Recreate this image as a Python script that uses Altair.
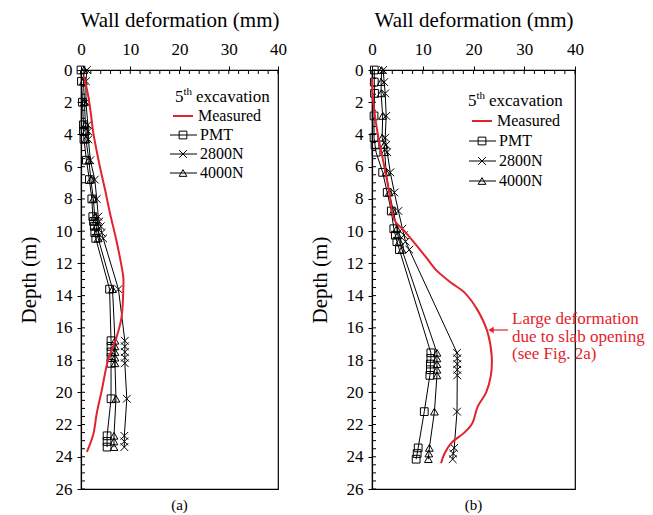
import altair as alt
import pandas as pd
import numpy as np

FONT = "Liberation Serif"
RED = "#e3232b"

series_names = ["PMT", "2800N", "4000N"]
x_ticks = [0, 10, 20, 30, 40]
y_ticks = list(range(0, 27, 2))

# ---------- panel (a) ----------
depth_a = [0, 0.7, 2.0, 3.4, 3.8, 4.3, 5.6, 6.8, 8.0, 9.1, 9.4, 9.7, 10.1, 10.45,
           13.6, 16.8, 17.15, 17.5, 17.85, 18.2, 20.4, 22.7, 23.05, 23.4]
pmt_a = [0.0, 0.1, 0.3, 0.5, 0.5, 0.6, 1.1, 1.7, 2.2, 2.4, 2.55, 2.7, 2.8, 3.0,
         5.8, 6.1, 6.1, 6.1, 6.1, 6.1, 6.1, 5.3, 5.3, 5.3]
n2800_a = [1.2, 1.0, 1.0, 1.4, 1.5, 1.5, 1.9, 2.8, 3.2, 3.5, 3.7, 4.0, 4.2, 4.5,
           7.6, 8.9, 8.9, 8.9, 8.9, 8.9, 9.3, 8.8, 8.8, 8.8]
n4000_a = [0.6, 0.5, 0.7, 0.9, 1.0, 1.0, 1.6, 2.0, 2.5, 2.8, 2.9, 3.1, 3.2, 3.5,
           6.4, 6.9, 6.9, 6.9, 6.9, 6.9, 7.1, 6.7, 6.7, 6.7]
meas_depth_a = [0.4, 1.5, 2.7, 3.9, 5.8, 7.45, 8.9, 10.6, 12.2, 12.9, 13.5, 15.3,
                16.6, 18.0, 19.9, 21.3, 22.6, 23.7]
meas_val_a = [0.6, 1.4, 2.0, 2.5, 3.7, 4.9, 5.9, 7.2, 8.25, 8.6, 8.6, 8.25,
              7.2, 5.5, 4.2, 3.2, 2.5, 1.2]

# ---------- panel (b) ----------
depth_b = [0, 0.75, 1.45, 2.85, 4.2, 4.65, 5.1, 6.35, 7.6, 8.75, 9.85, 10.25, 10.65,
           11.15, 17.55, 17.9, 18.25, 18.6, 18.95, 21.2, 23.45, 23.8, 24.15]
pmt_b = [0.45, 0.45, 0.5, 0.4, 0.4, 0.6, 0.8, 2.1, 3.0, 3.8, 4.3, 4.6, 4.9,
         5.4, 11.6, 11.6, 11.5, 11.5, 11.4, 10.3, 9.1, 8.9, 8.7]
n2800_b = [2.2, 2.4, 2.6, 2.8, 2.6, 2.8, 3.0, 3.6, 4.4, 5.2, 6.0, 6.3, 6.6,
           7.35, 16.75, 16.8, 16.8, 16.8, 16.8, 16.75, 16.2, 16.0, 15.9]
n4000_b = [1.9, 1.8, 1.8, 2.1, 2.0, 2.4, 2.5, 2.8, 3.4, 4.2, 4.9, 5.1, 5.4,
           5.9, 12.8, 12.8, 12.8, 12.8, 12.8, 12.3, 11.3, 11.2, 11.1]
meas_depth_b = [0.5, 1.8, 3.9, 5.95, 7.6, 9.3, 10.0, 10.9, 11.6, 12.4, 13.2, 13.8,
                14.9, 16.3, 17.8, 19.0, 20.0, 20.9, 21.9, 22.5, 23.15, 23.8, 24.4]
meas_val_b = [0.0, 0.2, 1.1, 2.4, 3.4, 4.4, 6.4, 8.8, 10.6, 12.6, 15.6, 18.2,
              20.8, 22.8, 23.6, 23.4, 22.5, 20.8, 19.8, 18.2, 15.6, 14.3, 13.6]

annotation_lines = ["Large deformation", "due to slab opening", "(see Fig. 2a)"]

H = 419
X_SHAPE = "M-1,-1L1,1M-1,1L1,-1"
shape_range = ["square", X_SHAPE, "triangle-up"]
MSIZE = 60


def model_df(depths, pmt, n2800, n4000):
    rows = []
    for name, vals in zip(series_names, [pmt, n2800, n4000]):
        for d, v in zip(depths, vals):
            rows.append({"series": name, "depth": d, "value": v})
    return pd.DataFrame(rows)


def xenc():
    return alt.X("value:Q", scale=alt.Scale(domain=[0, 40], nice=False, zero=False),
                 axis=alt.Axis(orient="top", values=x_ticks, title="Wall deformation (mm)",
                               tickSize=4, labelPadding=8, titlePadding=10,
                               labelFlush=False))


def yenc():
    return alt.Y("depth:Q", scale=alt.Scale(domain=[0, 26], reverse=True, nice=False, zero=False),
                 axis=alt.Axis(values=y_ticks, title="Depth (m)", tickSize=4,
                               labelPadding=5, titlePadding=16, labelFlush=False))


def one():
    return alt.Chart(alt.Data(values=[{}]))


def txt(s, x, y, size=16, color="black"):
    return one().mark_text(text=s, font=FONT, fontSize=size, color=color,
                           align="left", baseline="middle").encode(
        x=alt.value(x), y=alt.value(y))


def panel(depths, pmt, n2800, n4000, mdepth, mval, width, label, leg, annotate=False):
    mdf = model_df(depths, pmt, n2800, n4000)
    meas = pd.DataFrame({"depth": mdepth, "value": mval})
    ytk = pd.DataFrame({"depth": np.arange(0, 26.01, 0.5)})
    xtk = pd.DataFrame({"value": np.arange(0, 40.01, 2)})

    lines = alt.Chart(mdf).mark_line(color="black", strokeWidth=1).encode(
        x=xenc(), y=yenc(), detail="series:N", order="depth:Q")
    pts = alt.Chart(mdf).mark_point(filled=False, color="black", strokeWidth=1,
                                    size=MSIZE, opacity=1).encode(
        x=xenc(), y=yenc(),
        shape=alt.Shape("series:N", scale=alt.Scale(domain=series_names, range=shape_range),
                        legend=None))
    red = alt.Chart(meas).mark_line(color=RED, strokeWidth=2,
                                    interpolate="catmull-rom").encode(
        x=xenc(), y=yenc(), order="depth:Q")
    yt = alt.Chart(ytk).mark_rule(color="black", strokeWidth=1).encode(
        y=yenc(), x=alt.value(0), x2=alt.value(4))
    xt = alt.Chart(xtk).mark_rule(color="black", strokeWidth=1).encode(
        x=xenc(), y=alt.value(0), y2=alt.value(4))

    lx, ly, dy, ox = leg
    layers = [yt, xt, lines, pts, red]
    # legend
    layers.append(txt("5", lx, ly, 17))
    layers.append(txt("th", lx + 8.5, ly - 5, 11))
    layers.append(txt("excavation", lx + 21, ly, 17))
    ix = lx + ox
    layers.append(one().mark_rule(color=RED, strokeWidth=2).encode(
        x=alt.value(ix - 2), x2=alt.value(ix + 18), y=alt.value(ly + dy)))
    layers.append(txt("Measured", ix + 23, ly + dy, 16))
    for i, (name, shp) in enumerate(zip(series_names, shape_range)):
        yy = ly + dy * (i + 2)
        layers.append(one().mark_rule(color="black", strokeWidth=1).encode(
            x=alt.value(ix - 5), x2=alt.value(ix + 22), y=alt.value(yy)))
        layers.append(one().mark_point(shape=shp, filled=False, color="black",
                                       strokeWidth=1, size=MSIZE, opacity=1).encode(
            x=alt.value(ix + 8), y=alt.value(yy)))
        layers.append(txt(name, ix + 25, yy, 16))
    if annotate:
        layers.append(one().mark_rule(color=RED, strokeWidth=1.2).encode(
            x=alt.value(118), x2=alt.value(136), y=alt.value(260)))
        layers.append(one().mark_point(shape="triangle-left", filled=True, color=RED,
                                       size=40, opacity=1).encode(
            x=alt.value(119), y=alt.value(260)))
        for i, s in enumerate(annotation_lines):
            layers.append(txt(s, 140, 249 + 17.5 * i, 17, RED))

    return alt.layer(*layers).properties(
        width=width, height=H,
        title=alt.TitleParams(label, orient="bottom", fontSize=15, font=FONT,
                              fontWeight="normal", offset=1, color="black"))


pa = panel(depth_a, pmt_a, n2800_a, n4000_a, meas_depth_a, meas_val_a, 197, "(a)",
           (94, 27, 19, 0))
pb = panel(depth_b, pmt_b, n2800_b, n4000_b, meas_depth_b, meas_val_b, 203, "(b)",
           (96, 31, 20, 6), annotate=True)

chart = alt.hconcat(pa, pb, spacing=20).properties(
    padding={"left": 17, "top": 8, "right": 0, "bottom": 0}
).configure(background="white").configure_view(
    stroke="black", strokeWidth=1.2
).configure_axis(
    labelFont=FONT, titleFont=FONT, labelFontSize=17, titleFontSize=21,
    titleFontWeight="normal", labelColor="black", titleColor="black",
    domainColor="black", tickColor="black", grid=False, domainWidth=1.2
)

chart.save("out.html", embed_options={"renderer": "svg", "actions": False})
